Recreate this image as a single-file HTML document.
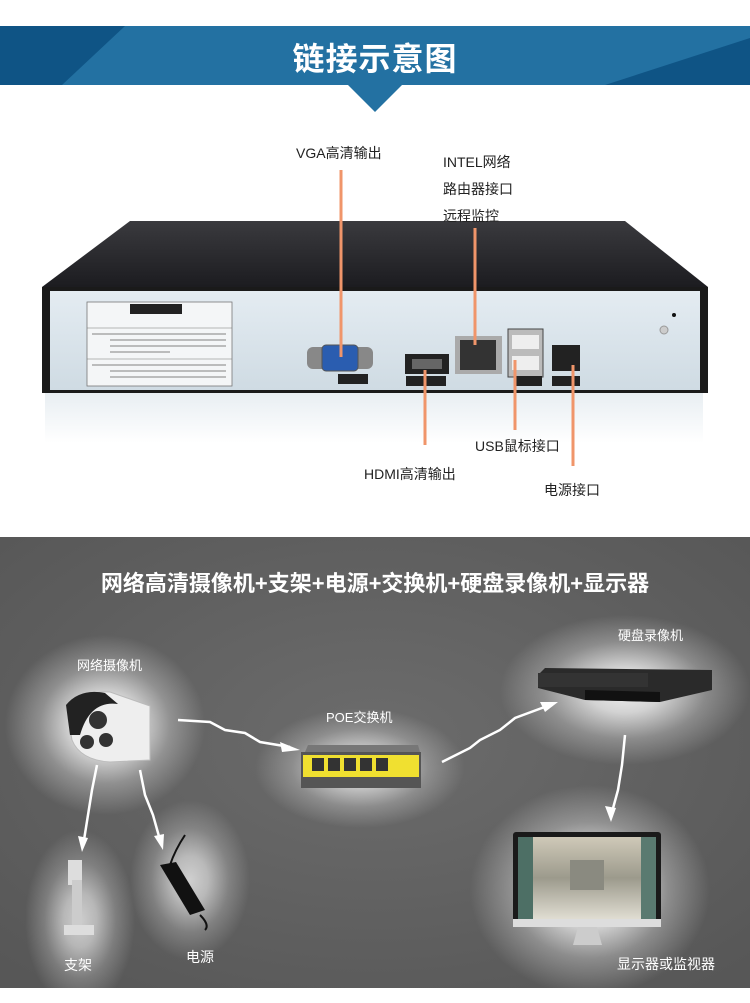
<!DOCTYPE html>
<html><head><meta charset="utf-8"><style>
html,body{margin:0;padding:0;background:#fff;}
body{width:750px;height:1003px;position:relative;overflow:hidden;font-family:"Liberation Sans","Noto Sans CJK SC",sans-serif;}
.t{position:absolute;white-space:nowrap;}
</style></head><body>
<svg width="750" height="1003" style="position:absolute;left:0;top:0">
<defs>
<radialGradient id="bg" cx="50%" cy="45%" r="70%"><stop offset="0" stop-color="#6c6c6c"/><stop offset="1" stop-color="#575757"/></radialGradient>
<radialGradient id="glow"><stop offset="0" stop-color="#fff" stop-opacity="1"/><stop offset="0.3" stop-color="#fff" stop-opacity="0.8"/><stop offset="0.65" stop-color="#fff" stop-opacity="0.3"/><stop offset="1" stop-color="#fff" stop-opacity="0"/></radialGradient>
<linearGradient id="face" x1="0" y1="0" x2="0" y2="1"><stop offset="0" stop-color="#e4ecf2"/><stop offset="1" stop-color="#cfdbe3"/></linearGradient>
<linearGradient id="top" x1="0" y1="0" x2="0" y2="1"><stop offset="0" stop-color="#3a3a3e"/><stop offset="1" stop-color="#1c1c20"/></linearGradient>
<linearGradient id="refl" x1="0" y1="0" x2="0" y2="1"><stop offset="0" stop-color="#e8eef2"/><stop offset="1" stop-color="#fff"/></linearGradient>
<linearGradient id="scr" x1="0" y1="0" x2="0" y2="1"><stop offset="0" stop-color="#cfc9b8"/><stop offset="0.5" stop-color="#9c9a8c"/><stop offset="1" stop-color="#e0ddd2"/></linearGradient>
</defs>
<!-- header -->
<rect x="0" y="26" width="750" height="59" fill="#2371a2"/>
<polygon points="0,26 125,26 62,85 0,85" fill="#0f5485"/>
<polygon points="750,38 750,85 605,85" fill="#0f5485"/>
<polygon points="348,85 402,85 375,112" fill="#2371a2"/>
<!-- NVR -->
<rect x="45" y="393" width="658" height="50" fill="url(#refl)"/>
<polygon points="130,221 625,221 708,287 42,287" fill="url(#top)"/>
<rect x="42" y="287" width="666" height="106" fill="#1a1a1a"/>
<rect x="50" y="291" width="650" height="99" fill="url(#face)"/>
<rect x="87" y="302" width="145" height="84" fill="#f4f6f7" stroke="#777" stroke-width="0.8"/>
<rect x="130" y="304" width="52" height="10" fill="#222"/>
<line x1="87" y1="328" x2="232" y2="328" stroke="#777" stroke-width="0.6"/>
<line x1="87" y1="359" x2="232" y2="359" stroke="#777" stroke-width="0.6"/>
<g stroke="#999" stroke-width="1.2"><line x1="92" y1="334" x2="226" y2="334"/><line x1="110" y1="340" x2="226" y2="340"/><line x1="110" y1="346" x2="226" y2="346"/><line x1="110" y1="352" x2="170" y2="352"/><line x1="92" y1="365" x2="226" y2="365"/><line x1="110" y1="371" x2="226" y2="371"/><line x1="110" y1="377" x2="226" y2="377"/></g>
<rect x="307" y="347" width="66" height="22" rx="6" fill="#888"/>
<rect x="322" y="345" width="36" height="26" rx="4" fill="#2a5db0" stroke="#555"/>
<rect x="338" y="374" width="30" height="10" fill="#222"/>
<rect x="405" y="354" width="44" height="20" fill="#222"/><rect x="412" y="359" width="30" height="10" fill="#666"/>
<rect x="406" y="376" width="40" height="10" fill="#222"/>
<rect x="455" y="336" width="47" height="38" fill="#aaa"/><rect x="460" y="340" width="36" height="30" fill="#333"/>
<rect x="508" y="329" width="35" height="48" fill="#bbb" stroke="#444"/><rect x="512" y="335" width="27" height="14" fill="#eee"/><rect x="512" y="356" width="27" height="14" fill="#eee"/>
<rect x="514" y="376" width="28" height="10" fill="#222"/>
<rect x="552" y="345" width="28" height="26" fill="#222"/><rect x="552" y="376" width="28" height="10" fill="#222"/>
<circle cx="664" cy="330" r="4" fill="#ccc" stroke="#999"/><circle cx="674" cy="315" r="2" fill="#111"/>
<g stroke="#f0956a" stroke-width="3"><line x1="341" y1="170" x2="341" y2="357"/><line x1="475" y1="228" x2="475" y2="345"/><line x1="425" y1="370" x2="425" y2="445"/><line x1="515" y1="360" x2="515" y2="430"/><line x1="573" y1="365" x2="573" y2="466"/></g>
<!-- gray section -->
<rect x="0" y="537" width="750" height="451" fill="url(#bg)"/>
<ellipse cx="105" cy="725" rx="100" ry="90" fill="url(#glow)"/>
<ellipse cx="360" cy="768" rx="105" ry="60" fill="url(#glow)" opacity="0.8"/>
<ellipse cx="625" cy="690" rx="125" ry="75" fill="url(#glow)" opacity="0.9"/>
<ellipse cx="590" cy="890" rx="120" ry="105" fill="url(#glow)"/>
<ellipse cx="80" cy="920" rx="55" ry="90" fill="url(#glow)" opacity="0.7"/>
<ellipse cx="190" cy="880" rx="60" ry="80" fill="url(#glow)" opacity="0.7"/>
<!-- camera -->
<path d="M68,718 Q80,690 110,692 L150,706 L150,760 L110,762 Q80,760 72,740 Z" fill="#eee" stroke="#bbb"/>
<path d="M66,705 Q80,688 105,693 L118,704 Q90,700 80,735 L70,735 Z" fill="#222"/>
<circle cx="98" cy="720" r="9" fill="#333"/><circle cx="87" cy="742" r="7" fill="#333"/><circle cx="106" cy="740" r="7" fill="#333"/>
<!-- switch -->
<polygon points="305,752 420,752 418,745 308,745" fill="#777"/>
<rect x="301" y="752" width="120" height="36" fill="#555"/>
<rect x="303" y="755" width="116" height="22" fill="#f0e030"/>
<g fill="#333"><rect x="312" y="758" width="12" height="13"/><rect x="328" y="758" width="12" height="13"/><rect x="344" y="758" width="12" height="13"/><rect x="360" y="758" width="12" height="13"/><rect x="376" y="758" width="12" height="13"/></g>
<!-- NVR lower -->
<polygon points="545,668 712,670 712,690 660,702 585,700 538,688 538,675" fill="#2a2a2a"/>
<polygon points="585,690 660,692 660,702 585,700" fill="#111"/>
<rect x="538" y="673" width="110" height="14" fill="#333"/>
<!-- monitor -->
<rect x="513" y="832" width="148" height="94" rx="3" fill="#1a1a1a"/>
<rect x="518" y="837" width="138" height="82" fill="url(#scr)"/>
<rect x="518" y="837" width="15" height="82" fill="#4d6f65"/><rect x="641" y="837" width="15" height="82" fill="#5a7a70"/>
<rect x="570" y="860" width="34" height="30" fill="#8a8a80"/>
<rect x="513" y="919" width="148" height="8" fill="#ddd"/>
<polygon points="578,927 597,927 602,945 573,945" fill="#ccc"/>
<!-- bracket -->
<rect x="68" y="860" width="14" height="25" fill="#ddd"/><rect x="72" y="880" width="10" height="45" fill="#ccc"/><rect x="64" y="925" width="30" height="10" fill="#ddd"/>
<!-- power -->
<polygon points="160,865 176,862 205,910 190,915" fill="#111"/>
<path d="M185,835 Q175,850 170,865 M200,915 Q210,925 205,930" stroke="#111" stroke-width="2" fill="none"/>
<!-- arrows -->
<g stroke="#fff" fill="none" stroke-width="2.5">
<path d="M178,720 L210,722 L225,730 L245,733 L260,742 L290,747"/>
<path d="M442,762 L470,748 L480,740 L500,730 L515,718 L550,705"/>
<path d="M97,765 L92,790 L88,815 L84,840"/>
<path d="M140,770 L145,795 L153,815 L160,840"/>
<path d="M625,735 L622,765 L618,790 L612,812"/>
</g>
<g fill="#fff"><polygon points="300,750 280,742 282,752"/><polygon points="558,702 540,702 545,712"/><polygon points="82,852 78,836 88,838"/><polygon points="163,850 154,836 164,834"/><polygon points="611,822 605,806 616,808"/></g>
</svg>
<div class="t" style="left:0;width:750px;top:34px;text-align:center;color:#fff;font-size:32px;font-weight:bold;letter-spacing:1px">链接示意图</div>
<div class="t" style="left:296px;top:143px;font-size:14px;color:#222">VGA高清输出</div>
<div class="t" style="left:443px;top:149px;font-size:14px;color:#222;line-height:27px">INTEL网络<br>路由器接口<br>远程监控</div>
<div class="t" style="left:364px;top:464px;font-size:14px;color:#222">HDMI高清输出</div>
<div class="t" style="left:475px;top:436px;font-size:14px;color:#222">USB鼠标接口</div>
<div class="t" style="left:544px;top:480px;font-size:14px;color:#222">电源接口</div>
<div class="t" style="left:0;width:750px;top:566px;text-align:center;color:#fff;font-size:22px;font-weight:bold">网络高清摄像机+支架+电源+交换机+硬盘录像机+显示器</div>
<div class="t" style="left:77px;top:655px;font-size:13px;color:#fff">网络摄像机</div>
<div class="t" style="left:326px;top:707px;font-size:13px;color:#fff">POE交换机</div>
<div class="t" style="left:618px;top:625px;font-size:13px;color:#fff">硬盘录像机</div>
<div class="t" style="left:64px;top:955px;font-size:14px;color:#fff">支架</div>
<div class="t" style="left:186px;top:947px;font-size:14px;color:#fff">电源</div>
<div class="t" style="left:617px;top:954px;font-size:14px;color:#fff">显示器或监视器</div>
</body></html>
